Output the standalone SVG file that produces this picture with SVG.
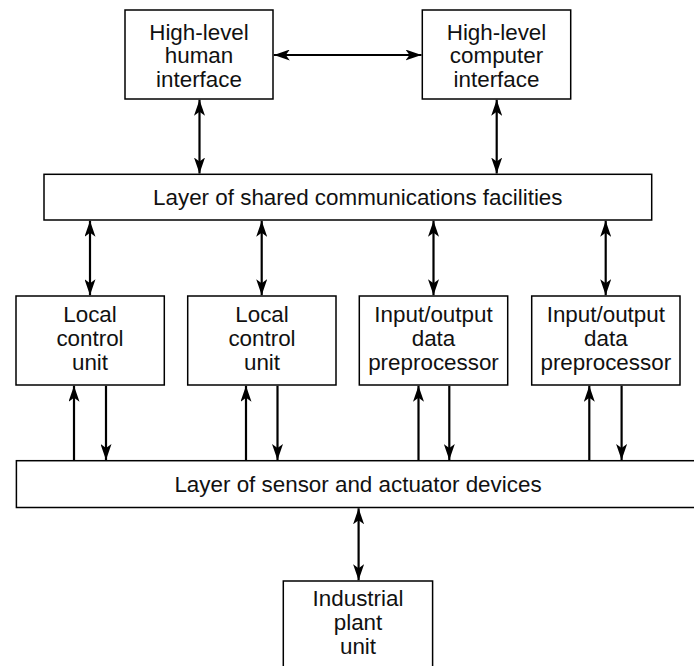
<svg xmlns="http://www.w3.org/2000/svg" width="694" height="666" viewBox="0 0 694 666">
<defs>
<style>
.box{fill:#fff;stroke:#000;stroke-width:1.5}
.t{font-family:"Liberation Sans",Arial,sans-serif;font-size:22.4px;fill:#111;text-anchor:middle}
.c{stroke:#000;stroke-width:2.2;fill:none}
</style>
<marker id="ah" viewBox="0 0 16 11" refX="16" refY="5.5" markerWidth="16" markerHeight="11" markerUnits="userSpaceOnUse" orient="auto-start-reverse">
<path d="M0,0 L16,5.5 L0,11 L4,5.5 z" fill="#000"/>
</marker>
</defs>
<rect width="694" height="666" fill="#fff"/>
<g id="human">
<rect class="box" x="125" y="10" width="148" height="89"/>
<text class="t" x="199" y="39.5">High-level</text>
<text class="t" x="199" y="63">human</text>
<text class="t" x="199" y="86.5">interface</text>
</g>
<g id="computer">
<rect class="box" x="422.3" y="10" width="148.4" height="89"/>
<text class="t" x="496.5" y="39.5">High-level</text>
<text class="t" x="496.5" y="63">computer</text>
<text class="t" x="496.5" y="86.5">interface</text>
</g>
<g id="shared">
<rect class="box" x="44" y="174.3" width="607.7" height="45.7"/>
<text class="t" x="357.8" y="205">Layer of shared communications facilities</text>
</g>
<g id="lcu1">
<rect class="box" x="16" y="296" width="148.3" height="89"/>
<text class="t" x="90" y="322">Local</text>
<text class="t" x="90" y="346">control</text>
<text class="t" x="90" y="369.5">unit</text>
</g>
<g id="lcu2">
<rect class="box" x="187.7" y="296" width="148.3" height="89"/>
<text class="t" x="262" y="322">Local</text>
<text class="t" x="262" y="346">control</text>
<text class="t" x="262" y="369.5">unit</text>
</g>
<g id="io1">
<rect class="box" x="359.3" y="296" width="148.4" height="89"/>
<text class="t" x="433.5" y="322">Input/output</text>
<text class="t" x="433.5" y="346">data</text>
<text class="t" x="433.5" y="369.5">preprocessor</text>
</g>
<g id="io2">
<rect class="box" x="531.7" y="296" width="148.3" height="89"/>
<text class="t" x="605.8" y="322">Input/output</text>
<text class="t" x="605.8" y="346">data</text>
<text class="t" x="605.8" y="369.5">preprocessor</text>
</g>
<g id="sensor">
<rect class="box" x="16.4" y="460.7" width="690" height="46.8"/>
<text class="t" x="358" y="491.5">Layer of sensor and actuator devices</text>
</g>
<g id="plant">
<rect class="box" x="283.3" y="581" width="149.3" height="100"/>
<text class="t" x="358" y="606">Industrial</text>
<text class="t" x="358" y="629.5">plant</text>
<text class="t" x="358" y="654">unit</text>
</g>
<g id="connectors">
<line class="c" x1="273.8" y1="55" x2="421.5" y2="55" marker-start="url(#ah)" marker-end="url(#ah)"/>
<line class="c" x1="199.5" y1="99.8" x2="199.5" y2="173.5" marker-start="url(#ah)" marker-end="url(#ah)"/>
<line class="c" x1="496.7" y1="99.8" x2="496.7" y2="173.5" marker-start="url(#ah)" marker-end="url(#ah)"/>
<line class="c" x1="90" y1="220.8" x2="90" y2="295.2" marker-start="url(#ah)" marker-end="url(#ah)"/>
<line class="c" x1="261.7" y1="220.8" x2="261.7" y2="295.2" marker-start="url(#ah)" marker-end="url(#ah)"/>
<line class="c" x1="433.5" y1="220.8" x2="433.5" y2="295.2" marker-start="url(#ah)" marker-end="url(#ah)"/>
<line class="c" x1="605.7" y1="220.8" x2="605.7" y2="295.2" marker-start="url(#ah)" marker-end="url(#ah)"/>
<line class="c" x1="74" y1="460" x2="74" y2="385.8" marker-end="url(#ah)"/>
<line class="c" x1="106" y1="385.8" x2="106" y2="460" marker-end="url(#ah)"/>
<line class="c" x1="246" y1="460" x2="246" y2="385.8" marker-end="url(#ah)"/>
<line class="c" x1="277.5" y1="385.8" x2="277.5" y2="460" marker-end="url(#ah)"/>
<line class="c" x1="418.5" y1="460" x2="418.5" y2="385.8" marker-end="url(#ah)"/>
<line class="c" x1="449.3" y1="385.8" x2="449.3" y2="460" marker-end="url(#ah)"/>
<line class="c" x1="589.3" y1="460" x2="589.3" y2="385.8" marker-end="url(#ah)"/>
<line class="c" x1="621.6" y1="385.8" x2="621.6" y2="460" marker-end="url(#ah)"/>
<line class="c" x1="358.6" y1="508.3" x2="358.6" y2="580.2" marker-start="url(#ah)" marker-end="url(#ah)"/>
</g>
</svg>
